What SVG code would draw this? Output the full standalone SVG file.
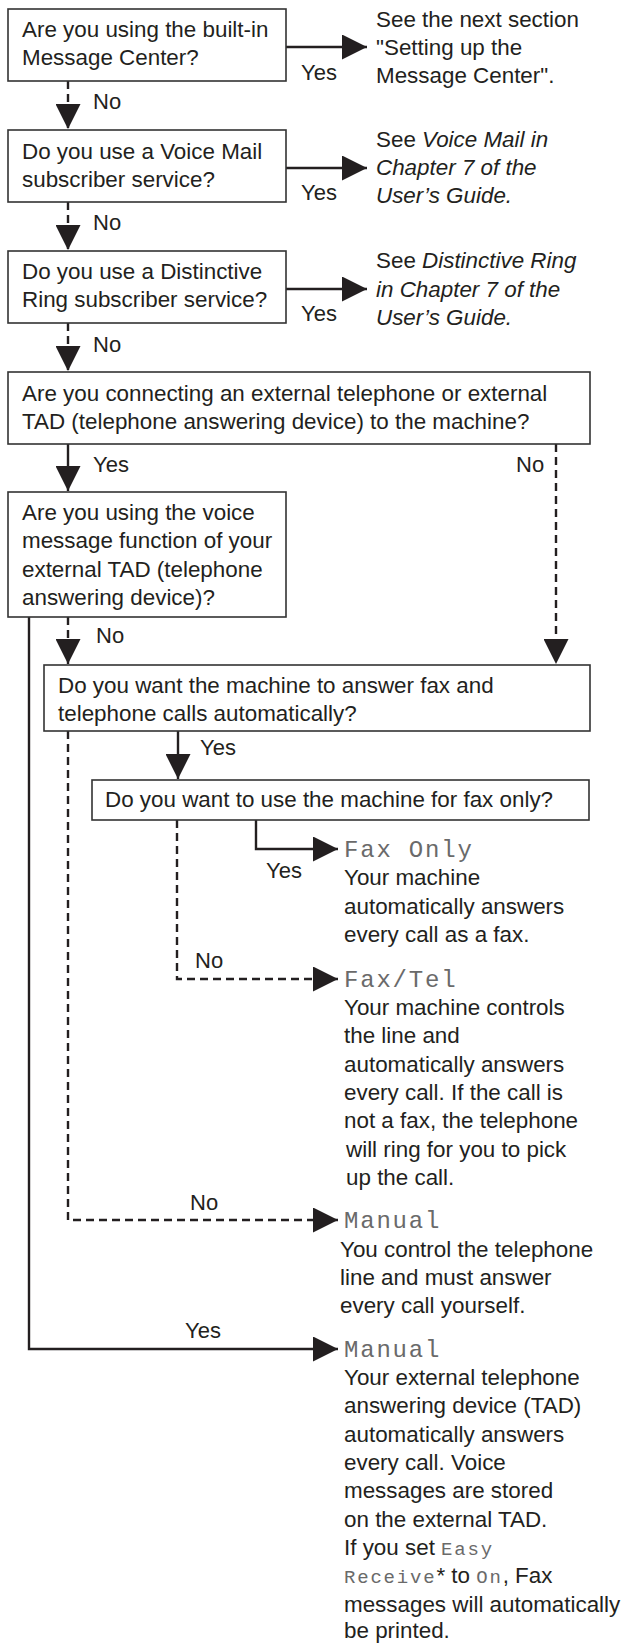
<svg xmlns="http://www.w3.org/2000/svg" width="626" height="1646" viewBox="0 0 626 1646">
<defs>
<style>
.t{font-family:"Liberation Sans",Arial,sans-serif;font-size:22.4px;fill:#231f20}
.i{font-style:italic}
.lab{font-family:"Liberation Sans",Arial,sans-serif;font-size:22px;fill:#231f20}
.lcd{font-family:"Liberation Mono","DejaVu Sans Mono",monospace;font-size:24px;letter-spacing:1.8px;fill:#6a6a6a}
.s{font-size:19px;letter-spacing:1.8px}
.box{fill:#fff;stroke:#333;stroke-width:1.6}
.ln{fill:none;stroke:#231f20;stroke-width:2.4;marker-end:url(#ah)}
.d{stroke-dasharray:8 5}
</style>
<marker id="ah" markerUnits="userSpaceOnUse" markerWidth="25" markerHeight="25" refX="25" refY="12.5" orient="auto" viewBox="0 0 25 25">
<path d="M0,0 L25,12.5 L0,25 Z" fill="#231f20" stroke="none"/>
</marker>
</defs>
<rect width="626" height="1646" fill="#fff"/>

<g id="connectors">
<path class="ln" d="M286,47 H367"/>
<path class="ln d" d="M68,81 V129"/>
<path class="ln" d="M286,168 H367"/>
<path class="ln d" d="M68,202 V250"/>
<path class="ln" d="M286,289 H367"/>
<path class="ln d" d="M68,323 V371"/>
<path class="ln" d="M68,444 V491"/>
<path class="ln d" d="M556,444 V664"/>
<path class="ln d" d="M68,617 V664"/>
<path class="ln" d="M29,617 V1349 H338"/>
<path class="ln" d="M178,731 V779"/>
<path class="ln d" d="M68,731 V1220 H338"/>
<path class="ln" d="M256,820 V849 H338"/>
<path class="ln d" d="M177,820 V979 H338"/>
<text class="lab" x="301" y="80">Yes</text>
<text class="lab" x="93" y="109">No</text>
<text class="lab" x="301" y="200">Yes</text>
<text class="lab" x="93" y="230">No</text>
<text class="lab" x="301" y="321">Yes</text>
<text class="lab" x="93" y="352">No</text>
<text class="lab" x="93" y="472">Yes</text>
<text class="lab" x="516" y="472">No</text>
<text class="lab" x="96" y="643">No</text>
<text class="lab" x="200" y="755">Yes</text>
<text class="lab" x="266" y="878">Yes</text>
<text class="lab" x="195" y="968">No</text>
<text class="lab" x="190" y="1210">No</text>
<text class="lab" x="185" y="1338">Yes</text>
</g>

<g id="q1">
<rect class="box" x="8" y="9" width="278" height="72"/>
<text class="t" x="22" y="37">Are you using the built-in</text>
<text class="t" x="22" y="65">Message Center?</text>
</g>
<g id="r1">
<text class="t" x="376" y="27">See the next section</text>
<text class="t" x="376" y="55">"Setting up the</text>
<text class="t" x="376" y="83">Message Center".</text>
</g>

<g id="q2">
<rect class="box" x="8" y="130" width="278" height="72"/>
<text class="t" x="22" y="159">Do you use a Voice Mail</text>
<text class="t" x="22" y="187">subscriber service?</text>
</g>
<g id="r2">
<text class="t" x="376" y="147">See <tspan class="i">Voice Mail in</tspan></text>
<text class="t i" x="376" y="175">Chapter 7 of the</text>
<text class="t i" x="376" y="203">User’s Guide.</text>
</g>

<g id="q3">
<rect class="box" x="8" y="251" width="278" height="72"/>
<text class="t" x="22" y="279">Do you use a Distinctive</text>
<text class="t" x="22" y="307">Ring subscriber service?</text>
</g>
<g id="r3">
<text class="t" x="376" y="268">See <tspan class="i">Distinctive Ring</tspan></text>
<text class="t i" x="376" y="297">in Chapter 7 of the</text>
<text class="t i" x="376" y="325">User’s Guide.</text>
</g>

<g id="q4">
<rect class="box" x="8" y="372" width="582" height="72"/>
<text class="t" x="22" y="401">Are you connecting an external telephone or external</text>
<text class="t" x="22" y="429">TAD (telephone answering device) to the machine?</text>
</g>

<g id="q5">
<rect class="box" x="8" y="492" width="278" height="125"/>
<text class="t" x="22" y="520">Are you using the voice</text>
<text class="t" x="22" y="548">message function of your</text>
<text class="t" x="22" y="577">external TAD (telephone</text>
<text class="t" x="22" y="605">answering device)?</text>
</g>

<g id="q6">
<rect class="box" x="44" y="665" width="546" height="66"/>
<text class="t" x="58" y="693">Do you want the machine to answer fax and</text>
<text class="t" x="58" y="721">telephone calls automatically?</text>
</g>

<g id="q7">
<rect class="box" x="92" y="780" width="497" height="40"/>
<text class="t" x="105" y="807">Do you want to use the machine for fax only?</text>
</g>

<g id="fax-only">
<text class="lcd" x="344" y="857">Fax Only</text>
<text class="t" x="344" y="885">Your machine</text>
<text class="t" x="344" y="914">automatically answers</text>
<text class="t" x="344" y="942">every call as a fax.</text>
</g>

<g id="fax-tel">
<text class="lcd" x="344" y="987">Fax/Tel</text>
<text class="t" x="344" y="1015">Your machine controls</text>
<text class="t" x="344" y="1043">the line and</text>
<text class="t" x="344" y="1072">automatically answers</text>
<text class="t" x="344" y="1100">every call. If the call is</text>
<text class="t" x="344" y="1128">not a fax, the telephone</text>
<text class="t" x="346" y="1157">will ring for you to pick</text>
<text class="t" x="346" y="1185">up the call.</text>
</g>

<g id="manual-1">
<text class="lcd" x="344" y="1228">Manual</text>
<text class="t" x="340" y="1257">You control the telephone</text>
<text class="t" x="340" y="1285">line and must answer</text>
<text class="t" x="340" y="1313">every call yourself.</text>
</g>

<g id="manual-2">
<text class="lcd" x="344" y="1357">Manual</text>
<text class="t" x="344" y="1385">Your external telephone</text>
<text class="t" x="344" y="1413">answering device (TAD)</text>
<text class="t" x="344" y="1442">automatically answers</text>
<text class="t" x="344" y="1470">every call. Voice</text>
<text class="t" x="344" y="1498">messages are stored</text>
<text class="t" x="344" y="1527">on the external TAD.</text>
<text class="t" x="344" y="1555">If you set <tspan class="lcd s">Easy</tspan></text>
<text class="t" x="344" y="1583"><tspan class="lcd s">Receive</tspan>* to <tspan class="lcd s">On</tspan>, Fax</text>
<text class="t" x="344" y="1612">messages will automatically</text>
<text class="t" x="344" y="1638">be printed.</text>
</g>
</svg>
